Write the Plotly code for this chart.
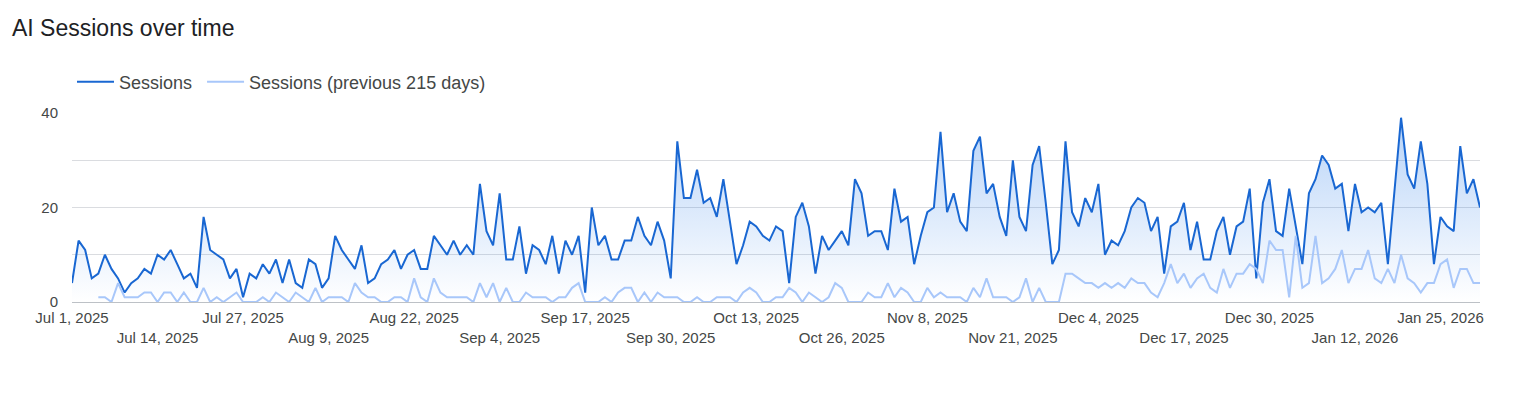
import pandas as pd
import plotly.graph_objects as go

# daily values, Jul 1 2025 .. Jan 31 2026 (215 days)
start_date = "2025-07-01"
n_days = 215

sessions = [
    4, 13, 11, 5, 6, 10, 7, 5, 2, 4,
    5, 7, 6, 10, 9, 11, 8, 5, 6, 3,
    18, 11, 10, 9, 5, 7, 1, 6, 5, 8,
    6, 9, 4, 9, 4, 3, 9, 8, 3, 5,
    14, 11, 9, 7, 12, 4, 5, 8, 9, 11,
    7, 10, 11, 7, 7, 14, 12, 10, 13, 10,
    12, 10, 25, 15, 12, 23, 9, 9, 16, 6,
    12, 11, 8, 14, 6, 13, 10, 14, 2, 20,
    12, 14, 9, 9, 13, 13, 18, 14, 12, 17,
    13, 5, 34, 22, 22, 28, 21, 22, 18, 26,
    17, 8, 12, 17, 16, 14, 13, 16, 15, 4,
    18, 21, 16, 6, 14, 11, 13, 15, 12, 26,
    23, 14, 15, 15, 11, 24, 17, 18, 8, 14,
    19, 20, 36, 19, 23, 17, 15, 32, 35, 23,
    25, 18, 14, 30, 18, 15, 29, 33, 21, 8,
    11, 34, 19, 16, 22, 19, 25, 10, 13, 12,
    15, 20, 22, 21, 15, 18, 6, 16, 17, 21,
    11, 17, 9, 9, 15, 18, 10, 16, 17, 24,
    5, 21, 26, 15, 14, 24, 16, 8, 23, 26,
    31, 29, 24, 25, 15, 25, 19, 20, 19, 21,
    8, 23, 39, 27, 24, 34, 25, 8, 18, 16,
    15, 33, 23, 26, 20,
]

sessions_prev = [
    None, None, None, None, 1, 1, 0, 4, 1, 1,
    1, 2, 2, 0, 2, 2, 0, 2, 0, 0,
    3, 0, 1, 0, 1, 2, 0, 0, 0, 1,
    0, 2, 1, 0, 2, 1, 0, 3, 0, 1,
    1, 1, 0, 4, 2, 1, 1, 0, 0, 1,
    1, 0, 5, 1, 0, 5, 2, 1, 1, 1,
    1, 0, 4, 1, 4, 0, 3, 0, 0, 2,
    1, 1, 1, 0, 1, 1, 3, 4, 0, 0,
    0, 1, 0, 2, 3, 3, 0, 2, 0, 2,
    1, 1, 1, 0, 0, 1, 0, 0, 1, 1,
    1, 0, 2, 3, 2, 0, 0, 1, 1, 3,
    2, 0, 2, 1, 0, 1, 4, 3, 0, 0,
    0, 2, 1, 1, 4, 1, 3, 2, 0, 0,
    3, 1, 2, 1, 1, 1, 0, 3, 1, 5,
    1, 1, 1, 0, 1, 5, 0, 3, 0, 0,
    0, 6, 6, 5, 4, 4, 3, 4, 3, 4,
    3, 5, 4, 4, 2, 1, 4, 8, 4, 6,
    3, 5, 6, 3, 2, 7, 3, 6, 6, 8,
    7, 4, 13, 11, 11, 1, 14, 3, 4, 14,
    4, 5, 7, 11, 4, 7, 7, 11, 5, 4,
    7, 4, 10, 5, 4, 2, 4, 4, 8, 9,
    3, 7, 7, 4, 4,
]

y_ticks = [0, 10, 20, 30, 40]
y_tick_text = ["0", "", "20", "", "40"]

dates = pd.date_range(start_date, periods=n_days, freq="D")

# x labels every 13 days, alternating between two rows
tick_dates = dates[::13]
tick_text = []
for k, d in enumerate(tick_dates):
    lbl = d.strftime("%b ") + str(d.day) + d.strftime(", %Y")
    if k % 2 == 1:
        lbl = " <br>" + lbl
    tick_text.append(lbl)

font_family = "Liberation Sans, Arial, sans-serif"

# page body has an 8px margin, so the figure is a bit smaller than the window
W, H = 1520, 393

fig = go.Figure()

# gradient area under the sessions line (kept out of the legend)
fig.add_trace(go.Scatter(
    x=dates, y=sessions, mode="lines", showlegend=False, hoverinfo="skip",
    line=dict(width=0, color="rgba(0,0,0,0)"),
    fill="tozeroy",
    fillgradient=dict(
        type="vertical",
        colorscale=[[0, "rgba(26,115,232,0.0)"], [1, "rgba(26,115,232,0.32)"]],
        start=0, stop=40,
    ),
))

fig.add_trace(go.Scatter(
    x=dates, y=sessions, name="Sessions\u00a0", mode="lines",
    line=dict(color="#1967d2", width=2),
))

fig.add_trace(go.Scatter(
    x=dates, y=sessions_prev, name="Sessions (previous 215 days)", mode="lines",
    line=dict(color="#a8c7fa", width=2),
))

fig.update_layout(
    width=W, height=H,
    margin=dict(l=64, r=48, t=105, b=99),
    paper_bgcolor="white", plot_bgcolor="white",
    font=dict(family=font_family, color="#444746"),
    title=dict(
        text="AI Sessions over time",
        x=4 / W, xanchor="left",
        y=1 - 20 / H, yanchor="middle",
        font=dict(size=23, color="#202124"),
    ),
    legend=dict(
        orientation="h", x=0, xanchor="left",
        y=(302 - 82) / 189, yanchor="middle",
        font=dict(size=18, color="#444746"),
        bgcolor="rgba(0,0,0,0)",
        itemwidth=37,
    ),
    showlegend=True,
)

fig.update_xaxes(
    range=[dates[0], dates[-1]],
    tickvals=tick_dates, ticktext=tick_text,
    tickangle=0,
    showgrid=False, zeroline=False, showline=False,
    tickfont=dict(size=15, color="#444746"),
    ticks="", ticklabelstandoff=5,
)

fig.update_yaxes(
    range=[0, 40],
    tickvals=y_ticks, ticktext=y_tick_text,
    showgrid=True, gridcolor="#dadce0", gridwidth=1,
    zeroline=True, zerolinecolor="#bdc1c6", zerolinewidth=1,
    showline=False,
    tickfont=dict(size=15, color="#444746"),
    ticks="", ticklabelstandoff=13,
)

fig.write_html("out.html")
